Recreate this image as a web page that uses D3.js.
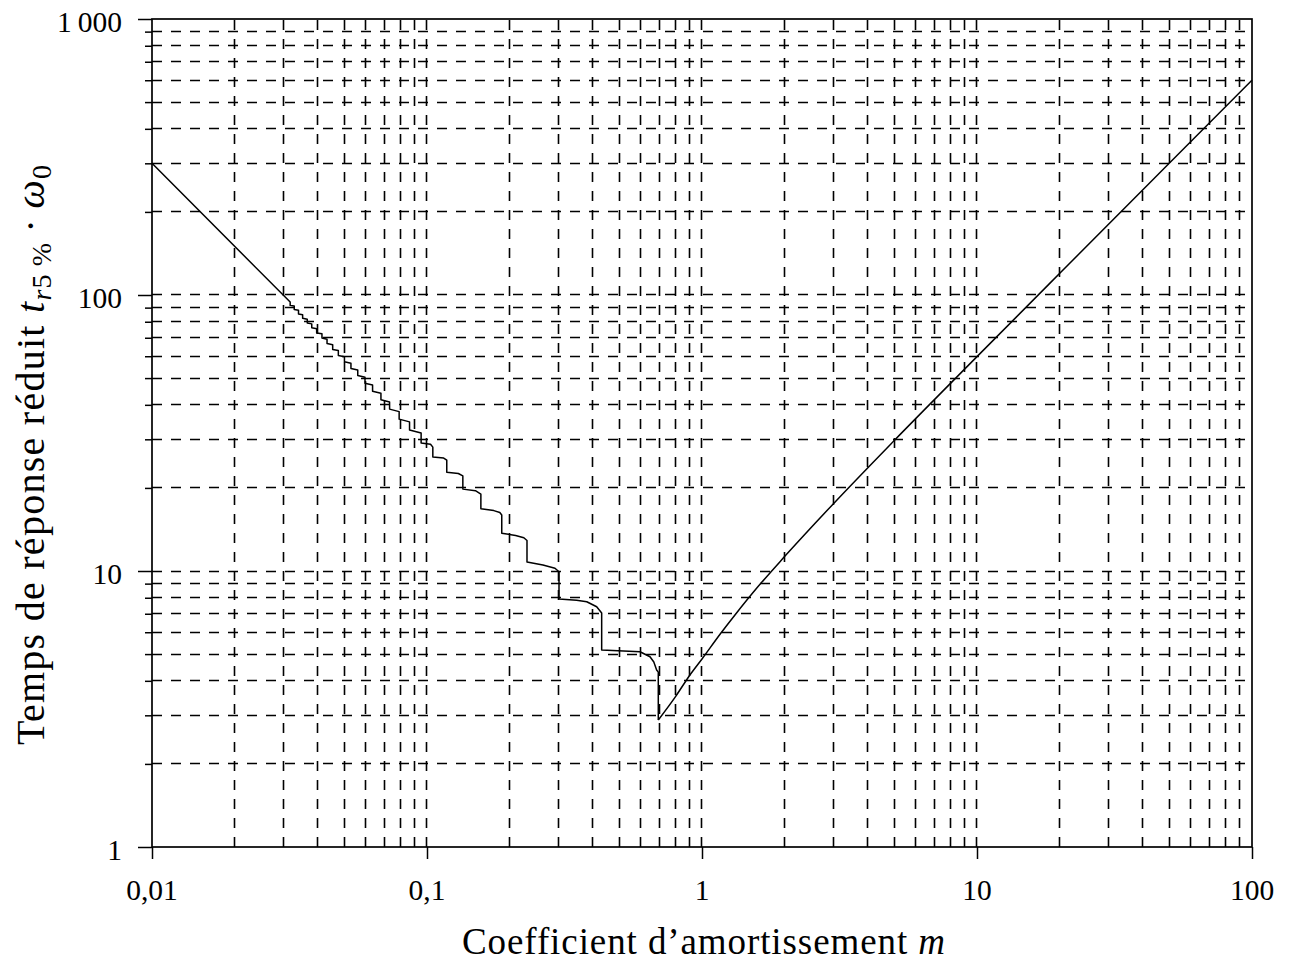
<!DOCTYPE html>
<html>
<head>
<meta charset="utf-8">
<script src="https://cdn.jsdelivr.net/npm/d3@7"></script>
<style>
  html, body { margin: 0; padding: 0; background: #fff; }
  svg { display: block; }
  text { font-family: "Liberation Serif", "DejaVu Serif", serif; fill: #000; }
</style>
</head>
<body>
<svg id="chart" width="1291" height="967"></svg>
<script>
// ---- Data ----
const xDomain = [0.01, 100];
const yDomain = [1, 1000];
const xTickValues = [0.01, 0.1, 1, 10, 100];
const xTickLabels = ["0,01", "0,1", "1", "10", "100"];
const yTickValues = [1, 10, 100, 1000];
const yTickLabels = ["1", "10", "100", "1\u2009000"];

// underdamped branch (staircase): damping coefficient m and reduced time t_r5% * w0
const stairM = [
  0.01, 0.0318, 0.0318, 0.0329, 0.0329, 0.0341, 0.0341, 0.0353, 0.0353, 0.0367, 0.0367,
  0.0381, 0.0381, 0.0397, 0.0397, 0.0415, 0.0415, 0.0433, 0.0433, 0.0454, 0.0454,
  0.0476, 0.0476, 0.0501, 0.0501, 0.0529, 0.0529, 0.0560, 0.0560, 0.0595, 0.0595,
  0.0634, 0.0634, 0.0680, 0.0680, 0.0731, 0.0731, 0.0792, 0.0792, 0.0864, 0.0864,
  0.0952, 0.0952, 0.103, 0.105, 0.105, 0.115, 0.118, 0.118, 0.130, 0.135, 0.135,
  0.150, 0.157, 0.157, 0.175, 0.184, 0.187, 0.187, 0.21, 0.225, 0.231, 0.231,
  0.264, 0.292, 0.302, 0.302, 0.35, 0.381, 0.414, 0.4317, 0.4317, 0.595, 0.647,
  0.668, 0.684, 0.6935, 0.6935
];
const stairT = [
  300, 94.29, 91.7, 91.15, 88.56, 88.01, 85.4, 84.87, 82.3, 81.74, 79.2,
  78.6, 76.05, 75.46, 72.9, 72.32, 69.8, 69.18, 66.7, 66.04, 63.5,
  62.9, 60.4, 59.76, 57.3, 56.63, 54.2, 53.49, 51.1, 50.36, 47.9,
  47.2, 44.8, 44.08, 41.7, 40.95, 38.6, 37.8, 35.5, 34.7, 32.45,
  31.6, 29.1, 28.8, 28.1, 25.9, 25.65, 25.2, 22.8, 22.55, 22.1, 19.8,
  19.55, 19.0, 16.8, 16.55, 16.3, 15.96, 13.7, 13.45, 13.2, 12.9, 10.78,
  10.51, 10.23, 9.94, 7.92, 7.84, 7.74, 7.42, 7.04, 5.17, 5.10, 4.89,
  4.68, 4.38, 4.30, 2.885
];
// rising branch (from the minimum on)
const riseM = [0.6935, 0.8, 0.904, 1.0, 1.163, 1.318, 1.602, 2, 3, 5, 10, 20, 50, 100];
const riseT = [2.885, 3.5, 4.2, 4.8, 5.9, 6.93, 8.8, 11.3, 17.5, 29.7, 59.8, 119.9, 300, 600];

const xTitle = "Coefficient d\u2019amortissement ";
const yTitle = "Temps de r\u00e9ponse r\u00e9duit ";

// ---- Layout ----
const svg = d3.select("#chart");
const L = 152, R = 1252, T = 19, B = 847;
const fs = 29.5;

const x = d3.scaleLog().domain(xDomain).range([L, R]);
const y = d3.scaleLog().domain(yDomain).range([B, T]);
const snap = v => Math.round(v - 0.5) + 0.5;

const xGrid = x.ticks().filter(v => v > xDomain[0] * 1.0001 && v < xDomain[1] * 0.9999);
const yGrid = y.ticks().filter(v => v > yDomain[0] * 1.0001 && v < yDomain[1] * 0.9999);

const g = svg.append("g");

// grid
g.append("g").selectAll("line").data(xGrid).join("line")
  .attr("x1", d => snap(x(d))).attr("x2", d => snap(x(d)))
  .attr("y1", B).attr("y2", T)
  .attr("stroke", "#000").attr("stroke-width", 1.6)
  .attr("stroke-dasharray", "10,9");
g.append("g").selectAll("line").data(yGrid).join("line")
  .attr("x1", L).attr("x2", R)
  .attr("y1", d => snap(y(d))).attr("y2", d => snap(y(d)))
  .attr("stroke", "#000").attr("stroke-width", 1.6)
  .attr("stroke-dasharray", "10,9");

// left axis ticks (minor + major, outward)
const yAxis = d3.axisLeft(y).tickValues(y.ticks()).tickFormat("")
  .tickSizeInner(7).tickSizeOuter(0);
const ya = g.append("g").attr("transform", `translate(${L},0)`).call(yAxis);
ya.select(".domain").remove();
ya.selectAll(".tick line").attr("stroke", "#000").attr("stroke-width", 1.5)
  .attr("x2", d => yTickValues.includes(d) ? -14 : -7);

// bottom axis major ticks
const xAxis = d3.axisBottom(x).tickValues(xTickValues).tickFormat("")
  .tickSizeInner(12).tickSizeOuter(0);
const xa = g.append("g").attr("transform", `translate(0,${B})`).call(xAxis);
xa.select(".domain").remove();
xa.selectAll(".tick line").attr("stroke", "#000").attr("stroke-width", 1.5);

// tick labels
g.append("g").selectAll("text").data(xTickValues).join("text")
  .attr("x", d => x(d)).attr("y", 900)
  .attr("text-anchor", "middle").attr("font-size", fs)
  .text((d, i) => xTickLabels[i]);
g.append("g").selectAll("text").data(yTickValues).join("text")
  .attr("x", 122).attr("y", d => y(d) + 13)
  .attr("text-anchor", "end").attr("font-size", fs)
  .text((d, i) => yTickLabels[i]);

// frame
g.append("rect").attr("x", L).attr("y", T).attr("width", R - L).attr("height", B - T)
  .attr("fill", "none").attr("stroke", "#000").attr("stroke-width", 1.7);

// curves
const stairPts = stairM.map((m, i) => [m, stairT[i]]);
const risePts = riseM.map((m, i) => [m, riseT[i]]);
g.append("path").datum(stairPts)
  .attr("fill", "none").attr("stroke", "#000").attr("stroke-width", 1.5)
  .attr("stroke-linejoin", "round")
  .attr("d", d3.line().x(d => x(d[0])).y(d => y(d[1])));
g.append("path").datum(risePts)
  .attr("fill", "none").attr("stroke", "#000").attr("stroke-width", 1.5)
  .attr("stroke-linejoin", "round")
  .attr("d", d3.line().curve(d3.curveMonotoneX).x(d => x(d[0])).y(d => y(d[1])));

// x title
const xt = g.append("text").attr("x", 462).attr("y", 954)
  .attr("text-anchor", "start").attr("font-size", 37)
  .attr("textLength", 483).attr("lengthAdjust", "spacing");
xt.append("tspan").text(xTitle);
xt.append("tspan").attr("font-style", "italic").text("m");

// y title (rotated)
const yt = g.append("text").attr("transform", "translate(44,745) rotate(-90)")
  .attr("text-anchor", "start").attr("font-size", 40)
  .attr("textLength", 580).attr("lengthAdjust", "spacing");
yt.append("tspan").text(yTitle);
yt.append("tspan").attr("font-style", "italic").text("t");
yt.append("tspan").attr("font-style", "italic").attr("font-size", 28).attr("dy", 7).text("r");
yt.append("tspan").attr("font-size", 28).text("5\u2009%");
yt.append("tspan").attr("dy", -7).text("\u2009\u00b7\u2009");
yt.append("tspan").attr("font-style", "italic").text("\u03c9");
yt.append("tspan").attr("font-size", 28).attr("dy", 7).text("0");
</script>
</body>
</html>
